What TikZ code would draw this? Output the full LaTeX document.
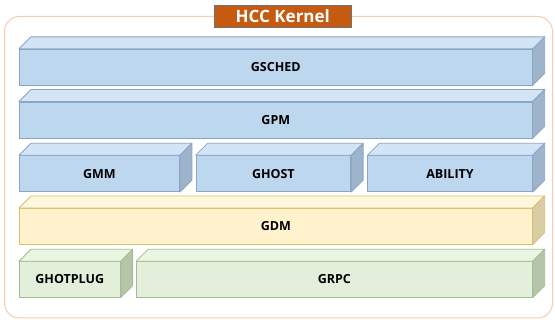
\documentclass[tikz,border=0pt]{standalone}
\usepackage{fontspec}
\setmainfont{Open Sans}
\usetikzlibrary{calc}

% face colours of the three slab families
\definecolor{blueFront}{HTML}{BDD7EE}
\definecolor{blueTop}{HTML}{D2E4F5}
\definecolor{blueSide}{HTML}{9DB4CB}
\definecolor{blueEdge}{HTML}{8AA6C6}
\definecolor{yelFront}{HTML}{FFF2CC}
\definecolor{yelTop}{HTML}{FFF7DC}
\definecolor{yelSide}{HTML}{D9CDA6}
\definecolor{yelEdge}{HTML}{D9C06E}
\definecolor{grnFront}{HTML}{E2EFDA}
\definecolor{grnTop}{HTML}{EBF5E4}
\definecolor{grnSide}{HTML}{B4C5A9}
\definecolor{grnEdge}{HTML}{A3BD92}
\definecolor{frameEdge}{HTML}{F8CBAD}
\definecolor{titleFill}{HTML}{C55A11}

\tikzset{
  slabfront/.style={draw=#1Edge, fill=#1Front, line width=0.8pt, inner sep=0pt,
    font=\fontsize{12.5}{14}\selectfont\bfseries, text=black},
  slabtop/.style={draw=#1Edge, fill=#1Top, line width=0.8pt, line join=round},
  slabside/.style={draw=#1Edge, fill=#1Side, line width=0.8pt, line join=round},
}

% \slab{name}{left}{top}{right}{bottom}{family}{label}
\newcommand{\slab}[7]{%
  \node[slabfront=#6, minimum width={(#4-#2)*1pt}, minimum height={(#5-#3)*1pt}]
    (#1) at ({(#2+#4)/2},{(#3+#5)/2}) {#7};
  \path[slabtop=#6] (#1.north west) -- ++(12,-12) -- ($(#1.north east)+(12pt,12pt)$)
    -- (#1.north east) -- cycle;
  \path[slabside=#6] (#1.north east) -- ++(12,-12) -- ($(#1.south east)+(12pt,12pt)$)
    -- (#1.south east) -- cycle;
}

\begin{document}
\begin{tikzpicture}[x=1pt, y=-1pt]
  \useasboundingbox (0,0) rectangle (555,323);

  % outer frame of the kernel
  \draw[frameEdge, line width=1pt, fill=white, rounded corners=15pt]
    (4.5,16.5) rectangle (552.5,318);
  \node[fill=titleFill, draw=black!55, line width=0.5pt, text=white,
        minimum width=137pt, minimum height=22.5pt, inner sep=0pt,
        font=\fontsize{17}{19}\selectfont\bfseries] (title) at (282.8,16.2) {HCC Kernel};

  % layered components, top to bottom
  \slab{gsched}{19.3}{49.3}{532.3}{85}{blue}{GSCHED}
  \slab{gpm}{19.3}{102}{532.3}{138}{blue}{GPM}
  \slab{gmm}{19.3}{155.7}{179.5}{191.7}{blue}{GMM}
  \slab{ghost}{196}{155.7}{350.7}{191.7}{blue}{GHOST}
  \slab{ability}{367.7}{155.7}{532.3}{191.7}{blue}{ABILITY}
  \slab{gdm}{19.3}{208.5}{532.3}{244.3}{yel}{GDM}
  \slab{ghotplug}{19.3}{261.7}{120.2}{297.3}{grn}{GHOTPLUG}
  \slab{grpc}{136.5}{261.7}{532.3}{297.3}{grn}{GRPC}
\end{tikzpicture}
\end{document}
